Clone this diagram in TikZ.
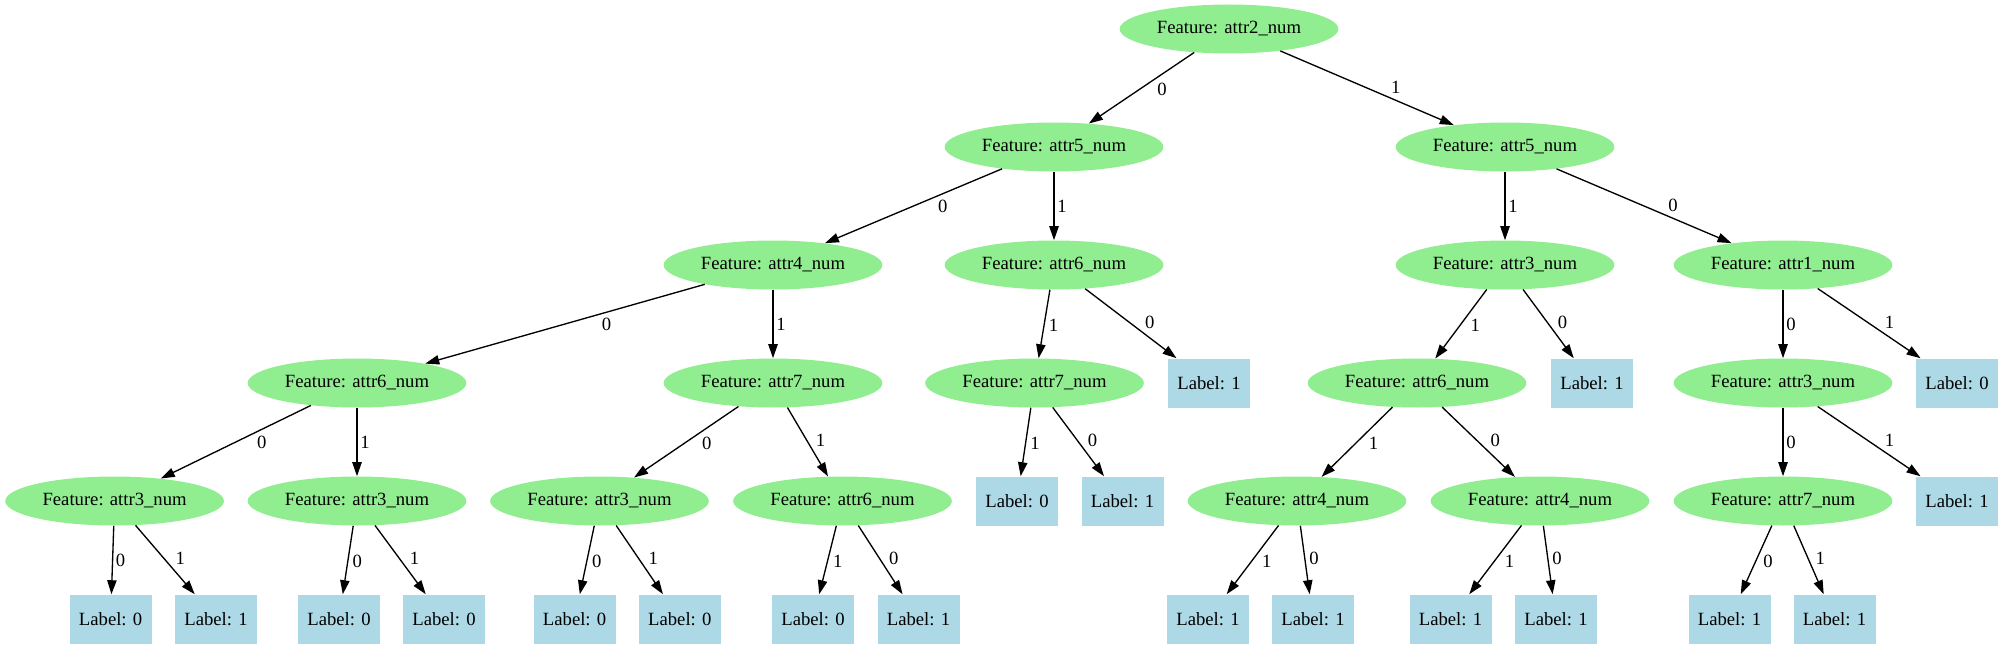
\documentclass[tikz,border=0pt]{standalone}
\usepackage{fontspec}
\setmainfont{Liberation Serif}
\usetikzlibrary{shapes.geometric,arrows.meta}
\definecolor{featgreen}{RGB}{144,238,144}
\definecolor{leafblue}{RGB}{173,216,230}

\begin{document}
\begin{tikzpicture}
                [
                x=0.75pt, y=-0.75pt,
                font=\fontsize{14}{16}\selectfont,
                feature/.style={ellipse,fill=featgreen,inner sep=0pt,minimum width=164pt,minimum height=36.75pt},
                leaf/.style={rectangle,fill=leafblue,inner sep=0pt,minimum width=61.5pt,minimum height=36.75pt},
                edge/.style={-{Triangle[length=10.5pt,width=7pt]},line width=1pt},
                lbl/.style={auto,inner sep=2pt},
                lbldl/.style={lbl,pos=0.38},
                lbldr/.style={lbl,pos=0.62}
                ]
            \useasboundingbox (0,0) rectangle (2003,649);
            \node[feature] (1) at (1229,29) {Feature: attr2\_num};
            \node[feature] (2) at (1054,147) {Feature: attr5\_num};
            \node[feature] (3) at (1505,147) {Feature: attr5\_num};
            \node[feature] (4) at (773,265) {Feature: attr4\_num};
            \node[feature] (5) at (1054,265) {Feature: attr6\_num};
            \node[feature] (6) at (1505,265) {Feature: attr3\_num};
            \node[feature] (7) at (1783,265) {Feature: attr1\_num};
            \node[feature] (8) at (357,383) {Feature: attr6\_num};
            \node[feature] (9) at (773,383) {Feature: attr7\_num};
            \node[feature] (10) at (1034.5,383) {Feature: attr7\_num};
            \node[leaf] (11) at (1209,383) {Label: 1};
            \node[feature] (12) at (1417,383) {Feature: attr6\_num};
            \node[leaf] (13) at (1592,383) {Label: 1};
            \node[feature] (14) at (1783,383) {Feature: attr3\_num};
            \node[leaf] (15) at (1957,383) {Label: 0};
            \node[feature] (16) at (114.6,501) {Feature: attr3\_num};
            \node[feature] (17) at (357,501) {Feature: attr3\_num};
            \node[feature] (18) at (599.5,501) {Feature: attr3\_num};
            \node[feature] (19) at (842.5,501) {Feature: attr6\_num};
            \node[leaf] (20) at (1017,501) {Label: 0};
            \node[leaf] (21) at (1122.5,501) {Label: 1};
            \node[feature] (22) at (1297,501) {Feature: attr4\_num};
            \node[feature] (23) at (1540,501) {Feature: attr4\_num};
            \node[feature] (24) at (1783,501) {Feature: attr7\_num};
            \node[leaf] (25) at (1957,501) {Label: 1};
            \node[leaf] (26) at (110.6,619) {Label: 0};
            \node[leaf] (27) at (216,619) {Label: 1};
            \node[leaf] (28) at (339,619) {Label: 0};
            \node[leaf] (29) at (444,619) {Label: 0};
            \node[leaf] (30) at (574.6,619) {Label: 0};
            \node[leaf] (31) at (679.8,619) {Label: 0};
            \node[leaf] (32) at (813,619) {Label: 0};
            \node[leaf] (33) at (918.5,619) {Label: 1};
            \node[leaf] (34) at (1208,619) {Label: 1};
            \node[leaf] (35) at (1313,619) {Label: 1};
            \node[leaf] (36) at (1450.5,619) {Label: 1};
            \node[leaf] (37) at (1556,619) {Label: 1};
            \node[leaf] (38) at (1729.5,619) {Label: 1};
            \node[leaf] (39) at (1834.5,619) {Label: 1};
            \draw[edge] (1) -- node[lbldl] {0} (2);
            \draw[edge] (1) -- node[lbldr] {1} (3);
            \draw[edge] (2) -- node[lbldl] {0} (4);
            \draw[edge] (2) -- node[lbl] {1} (5);
            \draw[edge] (3) -- node[lbl] {1} (6);
            \draw[edge] (3) -- node[lbldr] {0} (7);
            \draw[edge] (4) -- node[lbldl] {0} (8);
            \draw[edge] (4) -- node[lbl] {1} (9);
            \draw[edge] (5) -- node[lbldl] {1} (10);
            \draw[edge] (5) -- node[lbldr] {0} (11);
            \draw[edge] (6) -- node[lbldl] {1} (12);
            \draw[edge] (6) -- node[lbldr] {0} (13);
            \draw[edge] (7) -- node[lbl] {0} (14);
            \draw[edge] (7) -- node[lbldr] {1} (15);
            \draw[edge] (8) -- node[lbldl] {0} (16);
            \draw[edge] (8) -- node[lbl] {1} (17);
            \draw[edge] (9) -- node[lbldl] {0} (18);
            \draw[edge] (9) -- node[lbldr] {1} (19);
            \draw[edge] (10) -- node[lbldl] {1} (20);
            \draw[edge] (10) -- node[lbldr] {0} (21);
            \draw[edge] (12) -- node[lbldl] {1} (22);
            \draw[edge] (12) -- node[lbldr] {0} (23);
            \draw[edge] (14) -- node[lbl] {0} (24);
            \draw[edge] (14) -- node[lbldr] {1} (25);
            \draw[edge] (16) -- node[lbl] {0} (26);
            \draw[edge] (16) -- node[lbldr] {1} (27);
            \draw[edge] (17) -- node[lbldl] {0} (28);
            \draw[edge] (17) -- node[lbldr] {1} (29);
            \draw[edge] (18) -- node[lbldl] {0} (30);
            \draw[edge] (18) -- node[lbldr] {1} (31);
            \draw[edge] (19) -- node[lbldl] {1} (32);
            \draw[edge] (19) -- node[lbldr] {0} (33);
            \draw[edge] (22) -- node[lbldl] {1} (34);
            \draw[edge] (22) -- node[lbldr] {0} (35);
            \draw[edge] (23) -- node[lbldl] {1} (36);
            \draw[edge] (23) -- node[lbldr] {0} (37);
            \draw[edge] (24) -- node[lbldl] {0} (38);
            \draw[edge] (24) -- node[lbldr] {1} (39);
            \end{tikzpicture}
\end{document}
